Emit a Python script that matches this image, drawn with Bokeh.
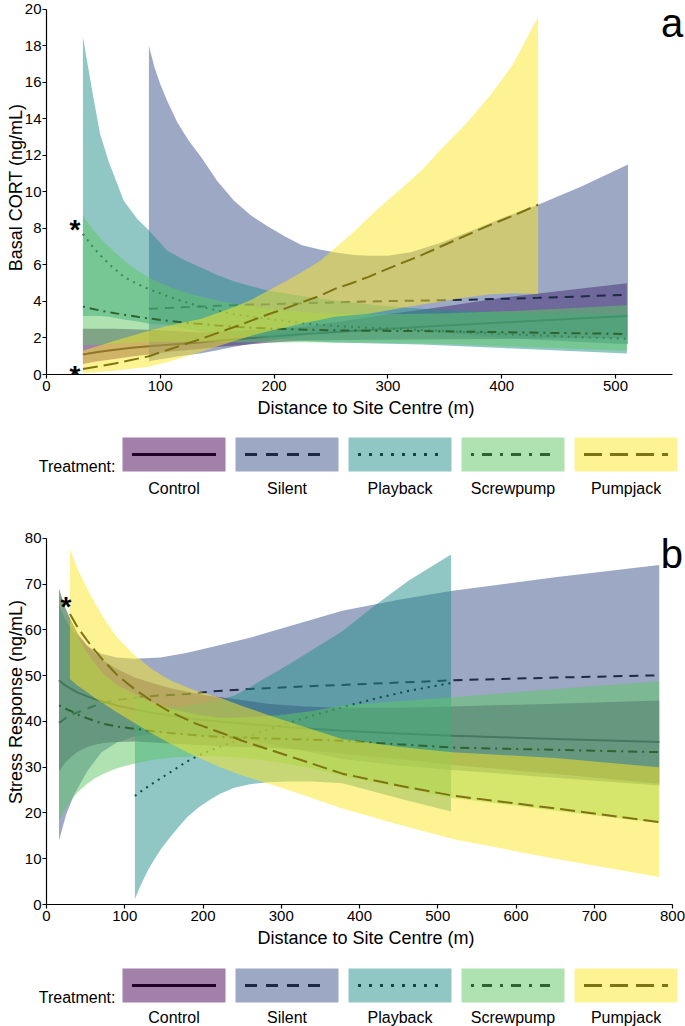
from bokeh.plotting import figure
from bokeh.layouts import column
from bokeh.models import Range1d, FixedTicker, Label
from bokeh.core.properties import value
from bokeh.embed import file_html
from bokeh.resources import INLINE

TREATMENTS = ["Control", "Silent", "Playback", "Screwpump", "Pumpjack"]

# ---------------- panel a: Basal CORT ----------------
A_CONTROL_X = [32, 45, 60, 75, 90, 110, 135, 150, 170, 195, 224, 260, 300, 350, 400, 455, 510]
A_CONTROL_FIT = [1.1, 1.23, 1.35, 1.46, 1.55, 1.65, 1.75, 1.85, 1.95, 2.07, 2.2, 2.35, 2.5, 2.68, 2.85, 3.03, 3.2]
A_CONTROL_LO = [0.58, 0.72, 0.85, 0.98, 1.1, 1.26, 1.4, 1.5, 1.6, 1.74, 1.86, 1.89, 1.9, 1.93, 1.95, 1.98, 2.0]
A_CONTROL_HI = [2.5, 2.5, 2.5, 2.48, 2.45, 2.38, 2.3, 2.33, 2.4, 2.48, 2.6, 2.92, 3.3, 3.72, 4.2, 4.6, 5.0]

A_SILENT_X = [90, 95, 100, 106, 115, 125, 136, 150, 165, 180, 195, 210, 224, 240, 253, 270, 283,
              300, 320, 346, 370, 390, 410, 432, 470, 511]
A_SILENT_FIT = [3.6, 3.61, 3.63, 3.65, 3.67, 3.7, 3.72, 3.76, 3.8, 3.83, 3.85, 3.88, 3.9, 3.93, 3.95,
                3.98, 4.0, 4.02, 4.04, 4.07, 4.1, 4.13, 4.16, 4.2, 4.28, 4.37]
A_SILENT_LO = [0.72, 0.78, 0.83, 0.89, 0.98, 1.07, 1.16, 1.33, 1.52, 1.69, 1.83, 1.99, 2.14, 2.25, 2.33,
               2.42, 2.46, 2.49, 2.44, 2.3, 2.16, 2.06, 1.97, 1.9, 1.78, 1.66]
A_SILENT_HI = [18.0, 16.8, 15.9, 15.0, 13.8, 12.8, 11.9, 10.6, 9.5, 8.7, 8.1, 7.55, 7.1, 6.85, 6.7,
               6.55, 6.5, 6.5, 6.7, 7.2, 7.8, 8.3, 8.8, 9.3, 10.3, 11.5]

A_PLAYBACK_X = [32, 40, 47, 55, 68, 80, 90, 106, 120, 136, 150, 165, 194, 224, 253, 290, 330, 400, 510]
A_PLAYBACK_FIT = [7.7, 7.05, 6.55, 6.05, 5.35, 4.95, 4.68, 4.3, 4.0, 3.72, 3.5, 3.3, 3.05, 2.82, 2.66,
                  2.54, 2.44, 2.22, 1.95]
A_PLAYBACK_LO = [3.2, 3.2, 3.2, 3.16, 3.02, 2.9, 2.78, 2.72, 2.54, 2.37, 2.25, 2.13, 2.02, 1.85, 1.75,
                 1.7, 1.65, 1.45, 1.15]
A_PLAYBACK_HI = [18.5, 15.6, 13.2, 11.6, 9.5, 8.5, 7.9, 6.8, 6.3, 5.85, 5.45, 5.1, 4.6, 4.3, 4.05,
                 3.8, 3.6, 3.4, 3.3]

A_SCREW_X = [32, 40, 50, 60, 70, 80, 90, 110, 130, 150, 170, 195, 224, 250, 280, 346, 420, 510]
A_SCREW_FIT = [3.72, 3.6, 3.47, 3.36, 3.26, 3.16, 3.07, 2.92, 2.8, 2.69, 2.6, 2.52, 2.46, 2.42, 2.4,
               2.37, 2.3, 2.22]
A_SCREW_LO = [1.59, 1.62, 1.65, 1.69, 1.73, 1.75, 1.78, 1.8, 1.8, 1.79, 1.77, 1.76, 1.77, 1.75, 1.75,
              1.68, 1.51, 1.3]
A_SCREW_HI = [8.7, 8.0, 7.3, 6.7, 6.15, 5.7, 5.3, 4.75, 4.35, 4.05, 3.82, 3.6, 3.42, 3.34, 3.3,
              3.34, 3.5, 3.8]

A_PUMP_X = [32, 60, 90, 109, 136, 150, 165, 180, 195, 210, 224, 240, 253, 268, 283, 297, 312, 330,
            346, 368, 390, 410, 432]
A_PUMP_FIT = [0.3, 0.6, 1.0, 1.4, 1.95, 2.27, 2.6, 2.95, 3.3, 3.62, 3.95, 4.3, 4.68, 5.0, 5.35, 5.72,
              6.1, 6.55, 7.0, 7.6, 8.2, 8.7, 9.3]
A_PUMP_LO = [0.07, 0.2, 0.42, 0.73, 1.25, 1.54, 1.83, 2.12, 2.37, 2.57, 2.79, 2.98, 3.17, 3.25, 3.33,
             3.48, 3.65, 3.83, 3.98, 4.22, 4.4, 4.45, 4.41]
A_PUMP_HI = [1.3, 1.85, 2.4, 2.7, 3.05, 3.35, 3.7, 4.1, 4.6, 5.1, 5.6, 6.2, 6.9, 7.7, 8.6, 9.4, 10.2,
             11.2, 12.3, 13.7, 15.3, 17.0, 19.6]

A_STAR_X = [25, 25]
A_STAR_Y = [8.4, 0.4]
A_XTICKS = [0, 100, 200, 300, 400, 500]
A_YTICKS = [0, 2, 4, 6, 8, 10, 12, 14, 16, 18, 20]

# ---------------- panel b: Stress Response ----------------
B_CONTROL_X = [16, 23, 31, 40, 52, 62, 73, 90, 113, 135, 160, 200, 240, 282, 330, 378, 450, 519, 650, 783]
B_CONTROL_FIT = [49.0, 48.0, 47.2, 46.3, 45.5, 44.9, 44.3, 43.5, 42.6, 41.9, 41.2, 40.3, 39.7, 39.1,
                 38.5, 38.0, 37.4, 36.9, 36.2, 35.5]
B_CONTROL_LO = [29.0, 30.8, 32.2, 33.4, 34.4, 34.9, 35.3, 35.5, 35.6, 35.4, 35.2, 34.8, 34.5, 34.3,
                33.7, 33.0, 31.8, 30.5, 28.5, 26.4]
B_CONTROL_HI = [69.0, 65.2, 62.2, 59.2, 56.6, 54.9, 53.3, 51.5, 49.6, 48.4, 47.2, 45.8, 44.9, 43.9,
                43.3, 43.0, 43.0, 43.3, 43.9, 44.6]

B_SILENT_X = [16, 25, 35, 52, 70, 90, 112, 146, 180, 214, 260, 320, 378, 450, 519, 650, 783]
B_SILENT_FIT = [39.7, 40.8, 41.7, 42.8, 44.0, 44.7, 45.2, 45.7, 46.0, 46.6, 47.1, 47.6, 48.0, 48.5,
                49.0, 49.6, 50.1]
B_SILENT_LO = [14.0, 19.6, 23.9, 29.1, 33.2, 35.4, 36.7, 37.4, 37.0, 36.8, 35.9, 33.9, 31.8, 30.4,
               29.4, 27.7, 26.0]
B_SILENT_HI = [65.4, 62.0, 59.5, 56.5, 54.8, 54.0, 53.7, 54.0, 55.0, 56.4, 58.3, 61.3, 64.2, 66.6,
               68.6, 71.5, 74.2]

B_PLAYBACK_X = [113, 118, 124, 130, 137, 147, 158, 169, 180, 195, 210, 222, 240, 260, 282, 310, 340,
                378, 420, 463, 517]
B_PLAYBACK_FIT = [23.7, 24.4, 25.1, 25.8, 26.6, 27.7, 28.9, 30.1, 31.3, 32.6, 33.7, 34.5, 35.6, 36.9,
                  38.2, 39.7, 41.3, 43.1, 45.0, 46.7, 48.4]
B_PLAYBACK_LO = [1.2, 3.3, 5.5, 7.6, 9.6, 12.3, 14.7, 17.0, 19.1, 21.3, 23.0, 24.2, 25.5, 26.3, 26.7,
                 26.9, 26.9, 26.5, 24.6, 22.6, 20.3]
B_PLAYBACK_HI = [46.2, 45.5, 44.7, 44.0, 43.6, 43.1, 43.1, 43.2, 43.5, 43.9, 44.4, 44.8, 45.7, 47.5,
                 49.7, 52.5, 55.7, 59.7, 65.4, 70.8, 76.5]

B_SCREW_X = [16, 23, 31, 40, 52, 62, 73, 90, 113, 135, 158, 190, 222, 260, 300, 340, 378, 450, 519, 650, 783]
B_SCREW_FIT = [43.5, 42.9, 42.3, 41.5, 40.7, 40.1, 39.5, 38.9, 38.4, 37.9, 37.5, 37.0, 36.6, 36.4,
               36.2, 36.0, 35.8, 35.0, 34.3, 33.8, 33.3]
B_SCREW_LO = [18.4, 20.6, 22.7, 24.6, 26.4, 27.6, 28.6, 29.8, 30.8, 31.6, 32.1, 32.4, 32.4, 31.9,
              31.0, 29.7, 28.1, 25.6, 23.3, 20.5, 17.8]
B_SCREW_HI = [68.6, 65.2, 61.9, 58.4, 55.0, 52.6, 50.4, 48.0, 46.0, 44.2, 42.9, 41.6, 40.8, 40.9,
              41.4, 42.3, 43.5, 44.4, 45.3, 47.1, 48.8]

B_PUMP_X = [30, 40, 52, 62, 73, 90, 113, 135, 158, 190, 222, 250, 282, 330, 378, 450, 519, 650, 783]
B_PUMP_FIT = [63.5, 60.5, 57.7, 55.5, 53.3, 50.2, 47.0, 44.4, 42.1, 39.6, 37.6, 35.8, 34.0, 31.3,
              28.6, 26.0, 23.8, 21.0, 18.0]
B_PUMP_LO = [49.3, 47.8, 46.4, 45.1, 43.9, 42.0, 39.6, 37.4, 35.2, 32.4, 30.0, 28.2, 26.5, 23.8,
             21.0, 17.5, 14.3, 10.0, 6.0]
B_PUMP_HI = [77.7, 73.2, 69.0, 65.9, 62.7, 58.4, 54.4, 51.4, 49.0, 46.8, 45.2, 43.4, 41.5, 38.8,
             36.2, 34.5, 33.3, 32.0, 30.0]

B_STAR_X = [25]
B_STAR_Y = [66.8]
B_XTICKS = [0, 100, 200, 300, 400, 500, 600, 700, 800]
B_YTICKS = [0, 10, 20, 30, 40, 50, 60, 70, 80]

# ---------------- styles ----------------
FONT = "Liberation Sans"
FILL = {"Control": "#440154", "Silent": "#3B528B", "Playback": "#21908C",
        "Screwpump": "#5DC863", "Pumpjack": "#FDE725"}
DARK = {"Control": "#22002A", "Silent": "#1D2945", "Playback": "#104846",
        "Screwpump": "#2E6431", "Pumpjack": "#7E7312"}
DASH_PLOT = {"Control": "solid", "Silent": "9 7", "Playback": "2 5",
             "Screwpump": "2 5 9 5", "Pumpjack": "15 6"}
DASH_LEG = {"Control": "solid", "Silent": "12 9", "Playback": "3 8",
            "Screwpump": "3 8 10 8", "Pumpjack": "18 8"}
W = 685
BL = 46   # left border (page px); frames run to the right page edge


def style(p, xticks, yticks, xbounds, ybounds):
    p.xgrid.visible = False
    p.ygrid.visible = False
    p.outline_line_color = None
    p.xaxis.ticker = FixedTicker(ticks=xticks)
    p.yaxis.ticker = FixedTicker(ticks=yticks)
    p.xaxis.bounds = xbounds
    p.yaxis.bounds = ybounds
    for ax in (p.xaxis[0], p.yaxis[0]):
        ax.axis_line_color = "black"
        ax.axis_line_width = 1.2
        ax.major_tick_line_color = "black"
        ax.major_tick_line_width = 1.2
        ax.major_tick_out = 4
        ax.major_tick_in = 0
        ax.minor_tick_line_color = None
        ax.major_label_text_font = FONT
        ax.major_label_text_font_size = "15px"
        ax.major_label_text_color = "black"
        ax.axis_label_text_font = FONT
        ax.axis_label_text_font_size = "18px"
        ax.axis_label_text_font_style = "normal"
        ax.axis_label_text_color = "black"
    p.xaxis[0].major_label_standoff = 2
    p.xaxis[0].axis_label_standoff = 4
    p.yaxis[0].major_label_standoff = 1
    p.yaxis[0].axis_label_standoff = -4


def draw(p, name, xs, lo, hi, fit):
    p.varea(x=xs, y1=lo, y2=hi, fill_color=FILL[name], fill_alpha=0.5)
    p.line(xs, fit, line_color=DARK[name], line_width=2, line_dash=DASH_PLOT[name])


def stars(p, xs, ys):
    p.text(x=xs, y=ys, text=["*"] * len(xs), text_font=value(FONT),
           text_font_size="28px", text_font_style="bold", text_color="black",
           text_align="center", text_baseline="middle", y_offset=8)


def panel_label(p, x, y, text):
    p.add_layout(Label(x=x, y=y, text=text, text_font=FONT, text_font_size="40px",
                       text_align="right", text_baseline="alphabetic", text_color="black"))


# panel a : frame spans page x 46..685, y 0..374  (x: 1.138 px/unit, y: 18.25 px/unit)
pa = figure(width=W, height=424, x_range=Range1d(0, 561.5), y_range=Range1d(0, 20.49),
            output_backend="svg", toolbar_location=None,
            min_border_left=BL, min_border_right=0, min_border_top=0, min_border_bottom=50,
            x_axis_label="Distance to Site Centre (m)", y_axis_label="Basal CORT (ng/mL)")
style(pa, A_XTICKS, A_YTICKS, (0, 550), (0, 20))
draw(pa, "Control", A_CONTROL_X, A_CONTROL_LO, A_CONTROL_HI, A_CONTROL_FIT)
draw(pa, "Silent", A_SILENT_X, A_SILENT_LO, A_SILENT_HI, A_SILENT_FIT)
draw(pa, "Playback", A_PLAYBACK_X, A_PLAYBACK_LO, A_PLAYBACK_HI, A_PLAYBACK_FIT)
draw(pa, "Screwpump", A_SCREW_X, A_SCREW_LO, A_SCREW_HI, A_SCREW_FIT)
draw(pa, "Pumpjack", A_PUMP_X, A_PUMP_LO, A_PUMP_HI, A_PUMP_FIT)
stars(pa, A_STAR_X, A_STAR_Y)
panel_label(pa, 559.5, 19.23, "a")

# panel b : frame spans page x 46..685, y 499..904 (x: 0.7825 px/unit, y: 4.575 px/unit)
pb = figure(width=W, height=455, x_range=Range1d(0, 816.6), y_range=Range1d(0, 88.52),
            output_backend="svg", toolbar_location=None,
            min_border_left=BL, min_border_right=0, min_border_top=0, min_border_bottom=50,
            x_axis_label="Distance to Site Centre (m)", y_axis_label="Stress Response (ng/mL)")
style(pb, B_XTICKS, B_YTICKS, (0, 800), (0, 80))
draw(pb, "Control", B_CONTROL_X, B_CONTROL_LO, B_CONTROL_HI, B_CONTROL_FIT)
draw(pb, "Silent", B_SILENT_X, B_SILENT_LO, B_SILENT_HI, B_SILENT_FIT)
draw(pb, "Playback", B_PLAYBACK_X, B_PLAYBACK_LO, B_PLAYBACK_HI, B_PLAYBACK_FIT)
draw(pb, "Screwpump", B_SCREW_X, B_SCREW_LO, B_SCREW_HI, B_SCREW_FIT)
draw(pb, "Pumpjack", B_PUMP_X, B_PUMP_LO, B_PUMP_HI, B_PUMP_FIT)
stars(pb, B_STAR_X, B_STAR_Y)
panel_label(pb, 813.5, 76.7, "b")


def legend_fig(h, box_top, box_h, label_y):
    # x data units == page pixels
    f = figure(width=W, height=h, x_range=Range1d(0, W), y_range=Range1d(h, 0),
               x_axis_type=None, y_axis_type=None, output_backend="svg",
               toolbar_location=None, min_border_left=0, min_border_right=0,
               min_border_top=0, min_border_bottom=0, outline_line_color=None,
               frame_align=False)
    mid = box_top + box_h / 2
    for i, name in enumerate(TREATMENTS):
        left = 122 + 113 * i
        f.quad(left=[left], right=[left + 103], top=[box_top], bottom=[box_top + box_h],
               fill_color=FILL[name], fill_alpha=0.5, line_color=None)
        f.line([left + 9.5, left + 93.5], [mid, mid], line_color=DARK[name],
               line_width=3, line_dash=DASH_LEG[name])
        f.text(x=[left + 51.5], y=[label_y], text=[name], text_font=value(FONT),
               text_font_size="16px", text_align="center", text_baseline="middle",
               text_color="black")
    f.text(x=[115], y=[box_top + box_h - 5], text=["Treatment:"], text_font=value(FONT),
           text_font_size="16px", text_align="right", text_baseline="middle",
           text_color="black")
    return f


la = legend_fig(75, 13, 34, 64)
lb = legend_fig(72, 14, 34, 63)

layout = column(pa, la, pb, lb, spacing=0)
open("out.html", "w").write(file_html(layout, INLINE))
